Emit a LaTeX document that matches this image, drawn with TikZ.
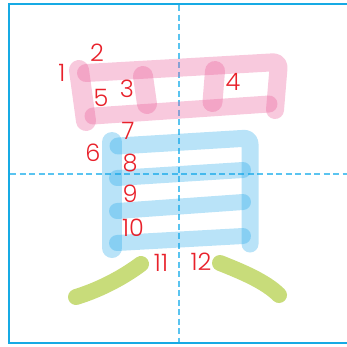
\documentclass[tikz,border=0pt]{standalone}
\usepackage{fontspec}
\setmainfont{Poppins}[UprightFont=* Light]
\definecolor{frameblue}{RGB}{22,170,228}
\definecolor{dashblue}{RGB}{90,196,240}
\definecolor{pinkc}{RGB}{234,91,152}
\definecolor{bluec}{RGB}{22,162,232}
\definecolor{greenc}{RGB}{200,220,122}
\definecolor{numred}{RGB}{232,33,43}
\begin{document}
\begin{tikzpicture}[x=1pt,y=-1pt,
  pinkv/.style={draw=pinkc,draw opacity=0.33,line width=20pt,line cap=round,line join=round},
  pinkh/.style={draw=pinkc,draw opacity=0.33,line width=17pt,line cap=round,line join=round},
  bluev/.style={draw=bluec,draw opacity=0.3,line width=20pt,line cap=round,line join=round},
  blueh/.style={draw=bluec,draw opacity=0.3,line width=16pt,line cap=round,line join=round},
  greens/.style={draw=greenc,line width=16pt,line cap=round},
  guide/.style={dashblue,line width=1.4pt,dash pattern=on 6pt off 3.5pt},
  num/.style={text=numred,font=\fontsize{24}{24}\selectfont,inner sep=0pt}]
\useasboundingbox (0,0) rectangle (347,346);
% guide lines
\draw[guide] (179,5) -- (179,342);
\draw[guide] (10,174) -- (347,174);
% frame
\draw[frameblue,line width=2pt] (352,4) -- (9,4) -- (9,343) -- (352,343);
% pink strokes
\draw[pinkv] (79,70) -- (86,121);
\draw[pinkh,line width=18pt,rounded corners=6pt] (86,73) -- (279,62) -- (275,110);
\draw[pinkv] (143,76) -- (147,104);
\draw[pinkv] (215,71) -- (212.5,102);
\draw[pinkh] (93,116) -- (269,104);
% blue strokes
\draw[bluev] (112,142) -- (112,248);
\draw[blueh,line width=17pt,rounded corners=6pt] (118,146) -- (250,138) -- (250,244);
\draw[blueh] (117,178) -- (243,170);
\draw[blueh] (117,211) -- (243,202);
\draw[blueh] (117,243) -- (243,236);
% green strokes
\draw[greens] (141,264) .. controls (125,276) and (102,289) .. (76,297);
\draw[greens] (220,263) .. controls (240,271) and (265,281) .. (279,295);
% numbers
\node[num] (n1) at (62,73) {1};
\node[num] (n2) at (97,53) {2};
\node[num] (n3) at (127,89) {3};
\node[num] (n4) at (233,82) {4};
\node[num] (n5) at (101,98) {5};
\node[num] (n6) at (93,153) {6};
\node[num] (n7) at (128,131) {7};
\node[num] (n8) at (130,163) {8};
\node[num] (n9) at (130,194) {9};
\node[num] (n10) at (133,228) {10};
\node[num] (n11) at (161,263) {11};
\node[num] (n12) at (201,262) {12};
\end{tikzpicture}
\end{document}
